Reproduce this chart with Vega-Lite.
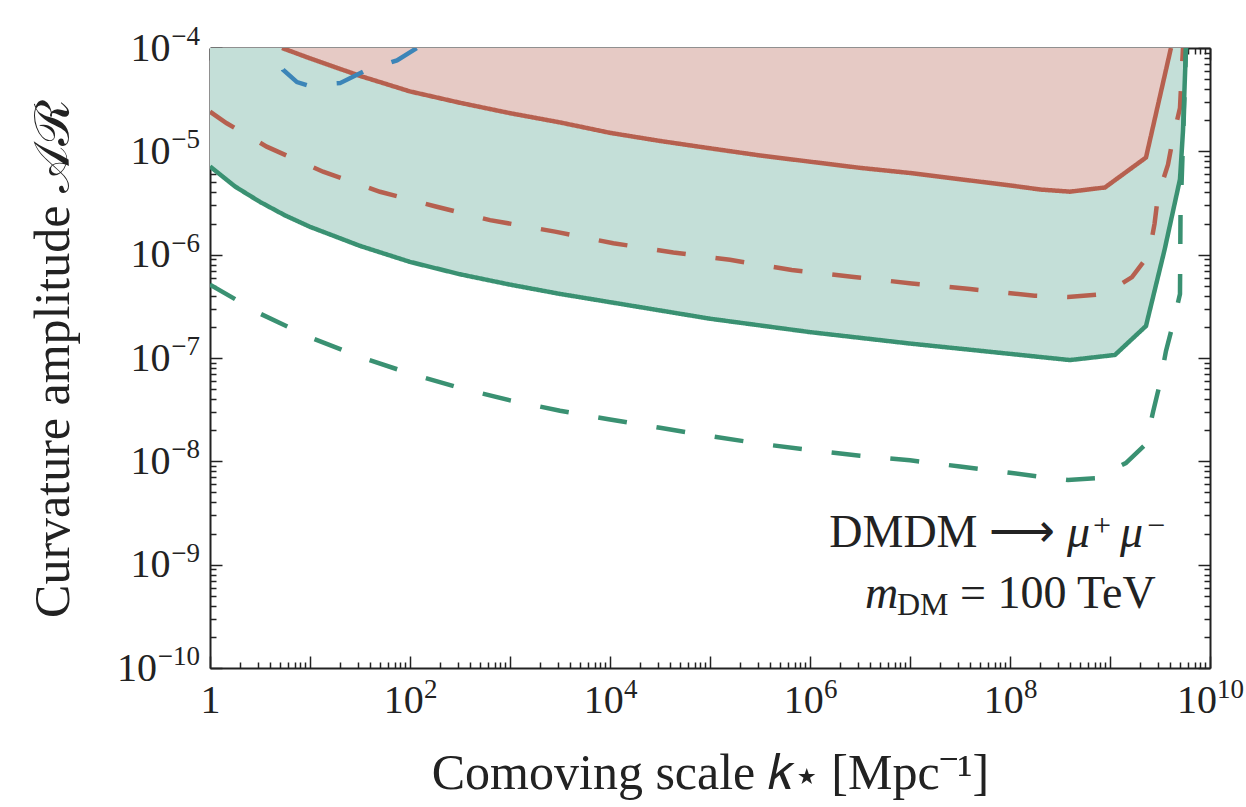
{
  "$schema": "https://vega.github.io/schema/vega-lite/v6.json",
  "autosize": {"type": "none"},
  "width": 1000,
  "height": 620,
  "padding": {"left": 210, "top": 48, "right": 36, "bottom": 139},
  "background": "white",
  "config": {"view": {"stroke": null}, "font": "Liberation Serif"},
  "datasets": {
    "curves": [
      {"series": "RS", "k": 5.25, "A": 1e-4},
      {"series": "RS", "k": 10, "A": 7.94e-5},
      {"series": "RS", "k": 31.62, "A": 5.37e-5},
      {"series": "RS", "k": 100, "A": 3.80e-5},
      {"series": "RS", "k": 316.2, "A": 2.95e-5},
      {"series": "RS", "k": 1000, "A": 2.34e-5},
      {"series": "RS", "k": 3162, "A": 1.905e-5},
      {"series": "RS", "k": 1e4, "A": 1.51e-5},
      {"series": "RS", "k": 31623, "A": 1.26e-5},
      {"series": "RS", "k": 1e5, "A": 1.07e-5},
      {"series": "RS", "k": 316228, "A": 9.12e-6},
      {"series": "RS", "k": 1e6, "A": 7.94e-6},
      {"series": "RS", "k": 3.162e6, "A": 6.92e-6},
      {"series": "RS", "k": 1e7, "A": 6.17e-6},
      {"series": "RS", "k": 3.162e7, "A": 5.37e-6},
      {"series": "RS", "k": 1e8, "A": 4.68e-6},
      {"series": "RS", "k": 2.0e8, "A": 4.27e-6},
      {"series": "RS", "k": 3.98e8, "A": 4.07e-6},
      {"series": "RS", "k": 8.91e8, "A": 4.47e-6},
      {"series": "RS", "k": 2.29e9, "A": 8.71e-6},
      {"series": "RS", "k": 4.07e9, "A": 1e-4},

      {"series": "RD", "k": 1, "A": 2.42e-5},
      {"series": "RD", "k": 1.47, "A": 1.87e-5},
      {"series": "RD", "k": 3.69, "A": 1.11e-5},
      {"series": "RD", "k": 13.5, "A": 6.35e-6},
      {"series": "RD", "k": 50.1, "A": 4.06e-6},
      {"series": "RD", "k": 185, "A": 2.91e-6},
      {"series": "RD", "k": 631, "A": 2.16e-6},
      {"series": "RD", "k": 2818, "A": 1.67e-6},
      {"series": "RD", "k": 1.08e4, "A": 1.29e-6},
      {"series": "RD", "k": 4.30e4, "A": 1.05e-6},
      {"series": "RD", "k": 1.58e5, "A": 8.91e-7},
      {"series": "RD", "k": 6.56e5, "A": 7.10e-7},
      {"series": "RD", "k": 2.61e6, "A": 6.11e-7},
      {"series": "RD", "k": 1.04e7, "A": 5.27e-7},
      {"series": "RD", "k": 3.98e7, "A": 4.65e-7},
      {"series": "RD", "k": 1.76e8, "A": 4.01e-7},
      {"series": "RD", "k": 3.80e8, "A": 3.89e-7},
      {"series": "RD", "k": 8.91e8, "A": 4.16e-7},
      {"series": "RD", "k": 1.66e9, "A": 6.07e-7},
      {"series": "RD", "k": 2.45e9, "A": 1.0e-6},
      {"series": "RD", "k": 2.79e9, "A": 2.0e-6},
      {"series": "RD", "k": 3.02e9, "A": 3.72e-6},
      {"series": "RD", "k": 3.80e9, "A": 7.41e-6},
      {"series": "RD", "k": 4.27e9, "A": 1.35e-5},
      {"series": "RD", "k": 5.01e9, "A": 2.63e-5},
      {"series": "RD", "k": 5.19e9, "A": 5.25e-5},
      {"series": "RD", "k": 5.37e9, "A": 1e-4},

      {"series": "GS", "k": 1, "A": 7.14e-6},
      {"series": "GS", "k": 1.778, "A": 4.57e-6},
      {"series": "GS", "k": 3.162, "A": 3.24e-6},
      {"series": "GS", "k": 5.623, "A": 2.40e-6},
      {"series": "GS", "k": 10, "A": 1.86e-6},
      {"series": "GS", "k": 31.62, "A": 1.216e-6},
      {"series": "GS", "k": 100, "A": 8.51e-7},
      {"series": "GS", "k": 316.2, "A": 6.46e-7},
      {"series": "GS", "k": 1000, "A": 5.13e-7},
      {"series": "GS", "k": 3162, "A": 4.17e-7},
      {"series": "GS", "k": 1e4, "A": 3.47e-7},
      {"series": "GS", "k": 1e5, "A": 2.40e-7},
      {"series": "GS", "k": 1e6, "A": 1.78e-7},
      {"series": "GS", "k": 1e7, "A": 1.38e-7},
      {"series": "GS", "k": 5.01e7, "A": 1.175e-7},
      {"series": "GS", "k": 2.0e8, "A": 1.023e-7},
      {"series": "GS", "k": 3.98e8, "A": 9.55e-8},
      {"series": "GS", "k": 1.12e9, "A": 1.07e-7},
      {"series": "GS", "k": 2.29e9, "A": 2.04e-7},
      {"series": "GS", "k": 3.51e9, "A": 1.11e-6},
      {"series": "GS", "k": 5.01e9, "A": 5.37e-6},
      {"series": "GS", "k": 5.37e9, "A": 1.58e-5},
      {"series": "GS", "k": 5.75e9, "A": 1e-4},

      {"series": "GD", "k": 1, "A": 5.13e-7},
      {"series": "GD", "k": 3.162, "A": 2.69e-7},
      {"series": "GD", "k": 10, "A": 1.585e-7},
      {"series": "GD", "k": 31.62, "A": 1.023e-7},
      {"series": "GD", "k": 100, "A": 7.08e-8},
      {"series": "GD", "k": 316.2, "A": 5.13e-8},
      {"series": "GD", "k": 1000, "A": 3.89e-8},
      {"series": "GD", "k": 3162, "A": 3.09e-8},
      {"series": "GD", "k": 1e4, "A": 2.54e-8},
      {"series": "GD", "k": 31623, "A": 2.11e-8},
      {"series": "GD", "k": 1e5, "A": 1.76e-8},
      {"series": "GD", "k": 316228, "A": 1.48e-8},
      {"series": "GD", "k": 1e6, "A": 1.288e-8},
      {"series": "GD", "k": 3.162e6, "A": 1.135e-8},
      {"series": "GD", "k": 1e7, "A": 1.023e-8},
      {"series": "GD", "k": 3.162e7, "A": 8.91e-9},
      {"series": "GD", "k": 1e8, "A": 7.76e-9},
      {"series": "GD", "k": 2.0e8, "A": 7.08e-9},
      {"series": "GD", "k": 3.80e8, "A": 6.61e-9},
      {"series": "GD", "k": 7.08e8, "A": 6.87e-9},
      {"series": "GD", "k": 1.44e9, "A": 9.62e-9},
      {"series": "GD", "k": 2.29e9, "A": 1.47e-8},
      {"series": "GD", "k": 2.69e9, "A": 2.99e-8},
      {"series": "GD", "k": 3.13e9, "A": 5.47e-8},
      {"series": "GD", "k": 3.63e9, "A": 1.17e-7},
      {"series": "GD", "k": 4.27e9, "A": 2.14e-7},
      {"series": "GD", "k": 5.01e9, "A": 4.17e-7},
      {"series": "GD", "k": 5.07e9, "A": 2.4e-6},
      {"series": "GD", "k": 5.50e9, "A": 2.51e-5},
      {"series": "GD", "k": 5.75e9, "A": 1e-4},

      {"series": "BD", "k": 4.47, "A": 1e-4},
      {"series": "BD", "k": 5.37, "A": 6.17e-5},
      {"series": "BD", "k": 7.41, "A": 4.68e-5},
      {"series": "BD", "k": 9.33, "A": 4.37e-5},
      {"series": "BD", "k": 19.95, "A": 4.57e-5},
      {"series": "BD", "k": 33.9, "A": 5.89e-5},
      {"series": "BD", "k": 74.1, "A": 7.59e-5},
      {"series": "BD", "k": 117.5, "A": 1e-4}
    ]
  },
  "resolve": {"axis": {"x": "independent", "y": "independent"}},
  "layer": [
    {
      "data": {"name": "curves"},
      "transform": [{"filter": "datum.series === 'GS'"}],
      "mark": {"type": "area", "clip": true, "color": "#c4dfd8", "opacity": 1},
      "encoding": {
        "x": {
          "field": "k", "type": "quantitative",
          "scale": {"type": "log", "domain": [1, 10000000000], "nice": false},
          "axis": {
            "orient": "bottom",
            "values": [1, 10, 100, 1000, 10000, 100000, 1000000, 10000000, 100000000, 1000000000, 10000000000],
            "grid": false,
            "domain": true, "domainColor": "#222", "domainWidth": 2,
            "ticks": true, "tickSize": -12, "tickWidth": 1.5, "tickColor": "#222",
            "labelExpr": "datum.value < 5 ? '1' : ''",
            "labelFont": "Liberation Serif", "labelFontSize": 40, "labelColor": "#222",
            "labelPadding": 24, "labelFlush": false, "labelOverlap": false,
            "title": "Comoving scale 𝑘⋆ [Mpc⁻¹]",
            "titleFont": "Liberation Serif", "titleFontSize": 50, "titleFontWeight": "normal", "titleColor": "#222",
            "titlePadding": 28
          }
        },
        "y": {
          "field": "A", "type": "quantitative",
          "scale": {"type": "log", "domain": [1e-10, 1e-4], "nice": false},
          "axis": {
            "orient": "left",
            "values": [1e-10, 1e-9, 1e-8, 1e-7, 1e-6, 1e-5, 1e-4],
            "grid": false,
            "domain": true, "domainColor": "#222", "domainWidth": 2,
            "ticks": true, "tickSize": -12, "tickWidth": 1.5, "tickColor": "#222",
            "labelExpr": "datum.value < 5e-10 ? '' : '10'",
            "labelFont": "Liberation Serif", "labelFontSize": 40, "labelColor": "#222",
            "labelPadding": 52, "labelOverlap": false, "labelFlush": false,
            "title": "Curvature amplitude 𝒜ℛ",
            "titleFont": "Liberation Serif", "titleFontSize": 50, "titleFontWeight": "normal", "titleColor": "#222",
            "titlePadding": 52
          }
        },
        "y2": {"datum": 1e-4}
      }
    },
    {
      "data": {"name": "curves"},
      "transform": [{"filter": "datum.series === 'RS'"}],
      "mark": {"type": "area", "clip": true, "color": "#e6cac5", "opacity": 1},
      "encoding": {
        "x": {
          "field": "k", "type": "quantitative",
          "axis": {
            "orient": "bottom",
            "values": [2,3,4,5,6,7,8,9,20,30,40,50,60,70,80,90,200,300,400,500,600,700,800,900,2000,3000,4000,5000,6000,7000,8000,9000,2e4,3e4,4e4,5e4,6e4,7e4,8e4,9e4,2e5,3e5,4e5,5e5,6e5,7e5,8e5,9e5,2e6,3e6,4e6,5e6,6e6,7e6,8e6,9e6,2e7,3e7,4e7,5e7,6e7,7e7,8e7,9e7,2e8,3e8,4e8,5e8,6e8,7e8,8e8,9e8,2e9,3e9,4e9,5e9,6e9,7e9,8e9,9e9],
            "grid": false, "domain": false, "labels": false, "title": null,
            "ticks": true, "tickSize": -6, "tickWidth": 1.5, "tickColor": "#222"
          }
        },
        "y": {
          "field": "A", "type": "quantitative",
          "axis": {
            "orient": "left",
            "values": [2e-10,3e-10,4e-10,5e-10,6e-10,7e-10,8e-10,9e-10,2e-9,3e-9,4e-9,5e-9,6e-9,7e-9,8e-9,9e-9,2e-8,3e-8,4e-8,5e-8,6e-8,7e-8,8e-8,9e-8,2e-7,3e-7,4e-7,5e-7,6e-7,7e-7,8e-7,9e-7,2e-6,3e-6,4e-6,5e-6,6e-6,7e-6,8e-6,9e-6,2e-5,3e-5,4e-5,5e-5,6e-5,7e-5,8e-5,9e-5],
            "grid": false, "domain": false, "labels": false, "title": null,
            "ticks": true, "tickSize": -6, "tickWidth": 1.5, "tickColor": "#222"
          }
        },
        "y2": {"datum": 1e-4}
      }
    },
    {
      "data": {"name": "curves"},
      "transform": [{"filter": "datum.series !== 'BD'"}],
      "mark": {"type": "line", "clip": true, "strokeWidth": 4.5},
      "encoding": {
        "x": {
          "field": "k", "type": "quantitative",
          "axis": {
            "orient": "top",
            "values": [1, 10, 100, 1000, 10000, 100000, 1000000, 10000000, 100000000, 1000000000, 10000000000],
            "grid": false, "domain": true, "domainColor": "#222", "domainWidth": 2,
            "labels": false, "title": null,
            "ticks": true, "tickSize": -12, "tickWidth": 1.5, "tickColor": "#222"
          }
        },
        "y": {
          "field": "A", "type": "quantitative",
          "axis": {
            "orient": "right",
            "values": [1e-10, 1e-9, 1e-8, 1e-7, 1e-6, 1e-5, 1e-4],
            "grid": false, "domain": true, "domainColor": "#222", "domainWidth": 2,
            "labels": false, "title": null,
            "ticks": true, "tickSize": -12, "tickWidth": 1.5, "tickColor": "#222"
          }
        },
        "color": {
          "field": "series", "type": "nominal", "legend": null,
          "scale": {"domain": ["GS", "RS", "GD", "RD"], "range": ["#3a9172", "#b6604f", "#3a9172", "#b6604f"]}
        },
        "strokeDash": {
          "field": "series", "type": "nominal", "legend": null,
          "scale": {"domain": ["GS", "RS", "GD", "RD"], "range": [[1, 0], [1, 0], [29, 30], [29, 30]]}
        },
        "detail": {"field": "series"}
      }
    },
    {
      "data": {"name": "curves"},
      "transform": [{"filter": "datum.series === 'BD'"}],
      "mark": {"type": "line", "clip": true, "strokeWidth": 4.5, "color": "#3c85b8", "strokeDash": [29, 30], "strokeDashOffset": 36},
      "encoding": {
        "x": {
          "field": "k", "type": "quantitative",
          "axis": {
            "orient": "top",
            "values": [2,3,4,5,6,7,8,9,20,30,40,50,60,70,80,90,200,300,400,500,600,700,800,900,2000,3000,4000,5000,6000,7000,8000,9000,2e4,3e4,4e4,5e4,6e4,7e4,8e4,9e4,2e5,3e5,4e5,5e5,6e5,7e5,8e5,9e5,2e6,3e6,4e6,5e6,6e6,7e6,8e6,9e6,2e7,3e7,4e7,5e7,6e7,7e7,8e7,9e7,2e8,3e8,4e8,5e8,6e8,7e8,8e8,9e8,2e9,3e9,4e9,5e9,6e9,7e9,8e9,9e9],
            "grid": false, "domain": false, "labels": false, "title": null,
            "ticks": true, "tickSize": -6, "tickWidth": 1.5, "tickColor": "#222"
          }
        },
        "y": {
          "field": "A", "type": "quantitative",
          "axis": {
            "orient": "right",
            "values": [2e-10,3e-10,4e-10,5e-10,6e-10,7e-10,8e-10,9e-10,2e-9,3e-9,4e-9,5e-9,6e-9,7e-9,8e-9,9e-9,2e-8,3e-8,4e-8,5e-8,6e-8,7e-8,8e-8,9e-8,2e-7,3e-7,4e-7,5e-7,6e-7,7e-7,8e-7,9e-7,2e-6,3e-6,4e-6,5e-6,6e-6,7e-6,8e-6,9e-6,2e-5,3e-5,4e-5,5e-5,6e-5,7e-5,8e-5,9e-5],
            "grid": false, "domain": false, "labels": false, "title": null,
            "ticks": true, "tickSize": -6, "tickWidth": 1.5, "tickColor": "#222"
          }
        }
      }
    },
    {
      "data": {"values": [{"A": 1e-4, "e": "−4"}, {"A": 1e-5, "e": "−5"}, {"A": 1e-6, "e": "−6"}, {"A": 1e-7, "e": "−7"}, {"A": 1e-8, "e": "−8"}, {"A": 1e-9, "e": "−9"}, {"A": 1e-10, "e": "−10"}]},
      "mark": {"type": "text", "align": "right", "baseline": "alphabetic", "dx": -10, "dy": -3, "font": "Liberation Serif", "fontSize": 27, "color": "#222"},
      "encoding": {
        "x": {"datum": 1, "type": "quantitative", "axis": null},
        "y": {
          "field": "A", "type": "quantitative",
          "axis": {
            "orient": "left", "values": [1e-10], "labelExpr": "'10'",
            "grid": false, "domain": false, "ticks": false, "title": null,
            "labelFont": "Liberation Serif", "labelFontSize": 40, "labelColor": "#222",
            "labelPadding": 53.5, "labelOverlap": false, "labelFlush": false
          }
        },
        "text": {"field": "e"}
      }
    },
    {
      "data": {"values": [{"k": 100, "e": "2"}, {"k": 10000, "e": "4"}, {"k": 1000000, "e": "6"}, {"k": 100000000, "e": "8"}]},
      "mark": {"type": "text", "align": "left", "baseline": "alphabetic", "dx": 14, "dy": 30, "font": "Liberation Serif", "fontSize": 27, "color": "#222"},
      "encoding": {
        "x": {
          "field": "k", "type": "quantitative",
          "axis": {
            "orient": "bottom", "values": [100, 10000, 1000000, 100000000], "labelExpr": "'10'",
            "grid": false, "domain": false, "ticks": false, "title": null,
            "labelFont": "Liberation Serif", "labelFontSize": 40, "labelColor": "#222",
            "labelPadding": 12, "labelOffset": -6.75, "labelOverlap": false, "labelFlush": false
          }
        },
        "y": {"datum": 1e-10, "type": "quantitative", "axis": null},
        "text": {"field": "e"}
      }
    },
    {
      "data": {"values": [{"k": 10000000000, "e": "10"}]},
      "mark": {"type": "text", "align": "left", "baseline": "alphabetic", "dx": 7, "dy": 30, "font": "Liberation Serif", "fontSize": 27, "color": "#222"},
      "encoding": {
        "x": {
          "field": "k", "type": "quantitative",
          "axis": {
            "orient": "bottom", "values": [10000000000], "labelExpr": "'10'",
            "grid": false, "domain": false, "ticks": false, "title": null,
            "labelFont": "Liberation Serif", "labelFontSize": 40, "labelColor": "#222",
            "labelPadding": 12, "labelOffset": -13.5, "labelOverlap": false, "labelFlush": false
          }
        },
        "y": {"datum": 1e-10, "type": "quantitative", "axis": null},
        "text": {"field": "e"}
      }
    },
    {
      "data": {"values": [{"k": 2.82e8, "A": 1.48e-9, "t": "DMDM ⟶"}]},
      "mark": {"type": "text", "align": "right", "baseline": "alphabetic", "font": "Liberation Serif", "fontSize": 46, "color": "#222"},
      "encoding": {
        "x": {"field": "k", "type": "quantitative", "axis": null},
        "y": {"field": "A", "type": "quantitative", "axis": null},
        "text": {"field": "t"}
      }
    },
    {
      "data": {"values": [{"k": 3.72e8, "A": 1.48e-9, "t": "μ"}, {"k": 1.26e9, "A": 1.48e-9, "t": "μ"}]},
      "mark": {"type": "text", "align": "left", "baseline": "alphabetic", "font": "Liberation Serif", "fontStyle": "italic", "fontSize": 46, "color": "#222"},
      "encoding": {
        "x": {"field": "k", "type": "quantitative", "axis": null},
        "y": {"field": "A", "type": "quantitative", "axis": null},
        "text": {"field": "t"}
      }
    },
    {
      "data": {"values": [{"k": 6.76e8, "A": 1.91e-9, "t": "+"}, {"k": 2.34e9, "A": 1.91e-9, "t": "−"}]},
      "mark": {"type": "text", "align": "left", "baseline": "alphabetic", "font": "Liberation Serif", "fontSize": 32, "color": "#222"},
      "encoding": {
        "x": {"field": "k", "type": "quantitative", "axis": null},
        "y": {"field": "A", "type": "quantitative", "axis": null},
        "text": {"field": "t"}
      }
    },
    {
      "data": {"values": [{"k": 3.55e6, "A": 3.8e-10, "t": "m"}]},
      "mark": {"type": "text", "align": "left", "baseline": "alphabetic", "font": "Liberation Serif", "fontStyle": "italic", "fontSize": 46, "color": "#222"},
      "encoding": {
        "x": {"field": "k", "type": "quantitative", "axis": null},
        "y": {"field": "A", "type": "quantitative", "axis": null},
        "text": {"field": "t"}
      }
    },
    {
      "data": {"values": [{"k": 7.41e6, "A": 3.24e-10, "t": "DM"}]},
      "mark": {"type": "text", "align": "left", "baseline": "alphabetic", "font": "Liberation Serif", "fontSize": 32, "color": "#222"},
      "encoding": {
        "x": {"field": "k", "type": "quantitative", "axis": null},
        "y": {"field": "A", "type": "quantitative", "axis": null},
        "text": {"field": "t"}
      }
    },
    {
      "data": {"values": [{"k": 3.16e7, "A": 3.8e-10, "t": "= 100 TeV"}]},
      "mark": {"type": "text", "align": "left", "baseline": "alphabetic", "font": "Liberation Serif", "fontSize": 46, "color": "#222"},
      "encoding": {
        "x": {"field": "k", "type": "quantitative", "axis": null},
        "y": {"field": "A", "type": "quantitative", "axis": null},
        "text": {"field": "t"}
      }
    }
  ]
}
